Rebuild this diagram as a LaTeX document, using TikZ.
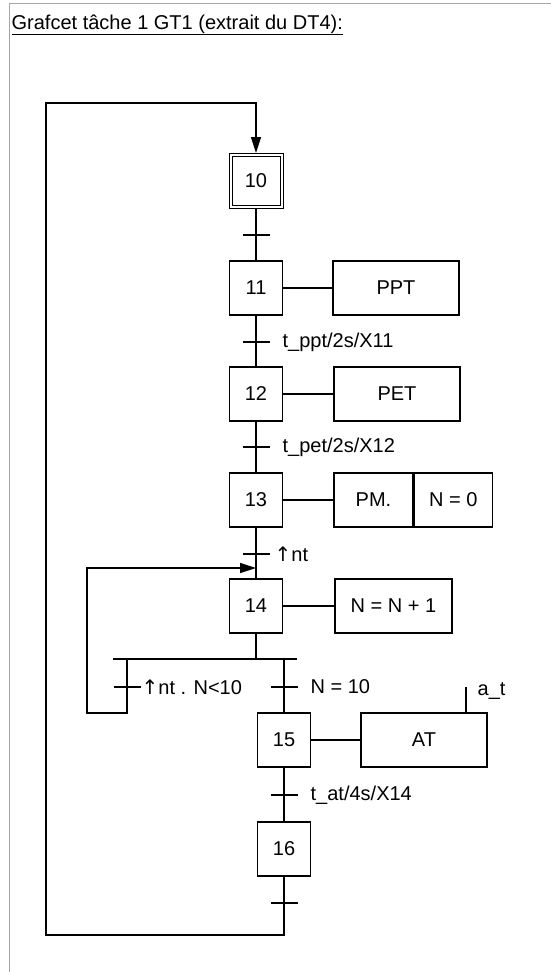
\documentclass[tikz,border=0pt]{standalone}
\usepackage{fontspec}
\setmainfont{Liberation Sans}
\newfontfamily\symbfont{DejaVu Sans}
\usetikzlibrary{arrows.meta}

\newcommand{\fmont}{{\symbfont\fontsize{20}{24}\selectfont ↑}}

\tikzset{
  etape/.style={draw, minimum width=53pt, minimum height=54pt, inner sep=0pt},
  etapeinit/.style={etape, double, double distance=2pt, line width=1pt, minimum width=51pt, minimum height=52pt},
  action/.style={draw, minimum width=126pt, minimum height=54pt, inner sep=0pt},
  transbar/.style={fill, minimum width=27pt, minimum height=1.6pt, inner sep=0pt},
  recep/.style={anchor=west, inner sep=0pt},
  flow/.style={-{Triangle[length=16pt,width=10pt]}},
}

\begin{document}
\begin{tikzpicture}[x=1pt, y=-1pt, line width=1.3pt, font=\fontsize{20}{24}\selectfont]
  \useasboundingbox (0,0) rectangle (551,972);

  % Frame and title
  \draw[gray!70, line width=0.8pt] (9,972) -- (9,3) -- (551,3);
  \node[anchor=base west, inner sep=0pt] (titre) at (11,29) {\underline{Grafcet tâche 1 GT1 (extrait du DT4):}};

  % Steps
  \node[etapeinit] (e10) at (256,181) {10};
  \node[etape] (e11) at (256,288) {11};
  \node[etape] (e12) at (256,394) {12};
  \node[etape] (e13) at (256,500) {13};
  \node[etape] (e14) at (256,606) {14};
  \node[etape] (e15) at (284,740) {15};
  \node[etape] (e16) at (284,849) {16};

  % Actions
  \node[action] (a11) at (396,288) {PPT};
  \node[action] (a12) at (397,394) {PET};
  \node[action, minimum width=79pt] (a13) at (373.5,500) {PM.};
  \node[action, minimum width=78pt, anchor=west] (a13n) at (a13.east) {N = 0};
  \node[action, minimum width=117pt] (a14) at (393.5,606) {N = N + 1};
  \node[action] (a15) at (424,740) {AT};

  % Transitions
  \node[transbar] (t10) at (256,235) {};
  \node[transbar] (t11) at (256,342) {};
  \node[transbar] (t12) at (256,447) {};
  \node[transbar] (t13) at (256,554) {};
  \node[transbar] (tg) at (127,687) {};
  \node[transbar] (td) at (284,687) {};
  \node[transbar] (t15) at (284,795) {};
  \node[transbar] (t16) at (284,903) {};

  % Receptivities
  \node[recep] (r11) at (282,342) {t\_ppt/2s/X11};
  \node[recep] (r12) at (282,447) {t\_pet/2s/X12};
  \node[recep] (r13) at (274,554) {\fmont nt};
  \node[recep] (rg) at (141,687) {\fmont nt . N<10};
  \node[recep] (rd) at (310,687) {N = 10};
  \node[recep] (r15) at (310,795) {t\_at/4s/X14};

  % Links between steps
  \draw (e10) -- (e11);
  \draw (e11) -- (e12);
  \draw (e12) -- (e13);
  \draw (e13) -- (e14);
  \draw (e15) -- (e16);

  % Links to actions
  \draw (e11) -- (a11);
  \draw (e12) -- (a12);
  \draw (e13) -- (a13);
  \draw (e14) -- (a14);
  \draw (e15) -- (a15);

  % a_t
  \coordinate (at) at (466,687);
  \draw (at) -- (at |- a15.north);
  \node[anchor=base west, inner sep=0pt] (lat) at (477,695) {a\_t};

  % OR divergence
  \coordinate (og) at (113,659);
  \coordinate (od) at (297,659);
  \coordinate (j14) at (256,568);
  \draw (og) -- (od);
  \draw (e14) -- (e14 |- og);
  \draw (td |- og) -- (e15);
  \draw[flow] (tg |- og) -- (tg.center) |- (87,713) |- (j14);

  % Return to initial step
  \coordinate (bg) at (46,935);
  \coordinate (hg) at (46,103);
  \draw[flow, shorten >=1.5pt] (e16) -- (t16.center) |- (bg) -- (hg) -| (e10.north);
\end{tikzpicture}
\end{document}
